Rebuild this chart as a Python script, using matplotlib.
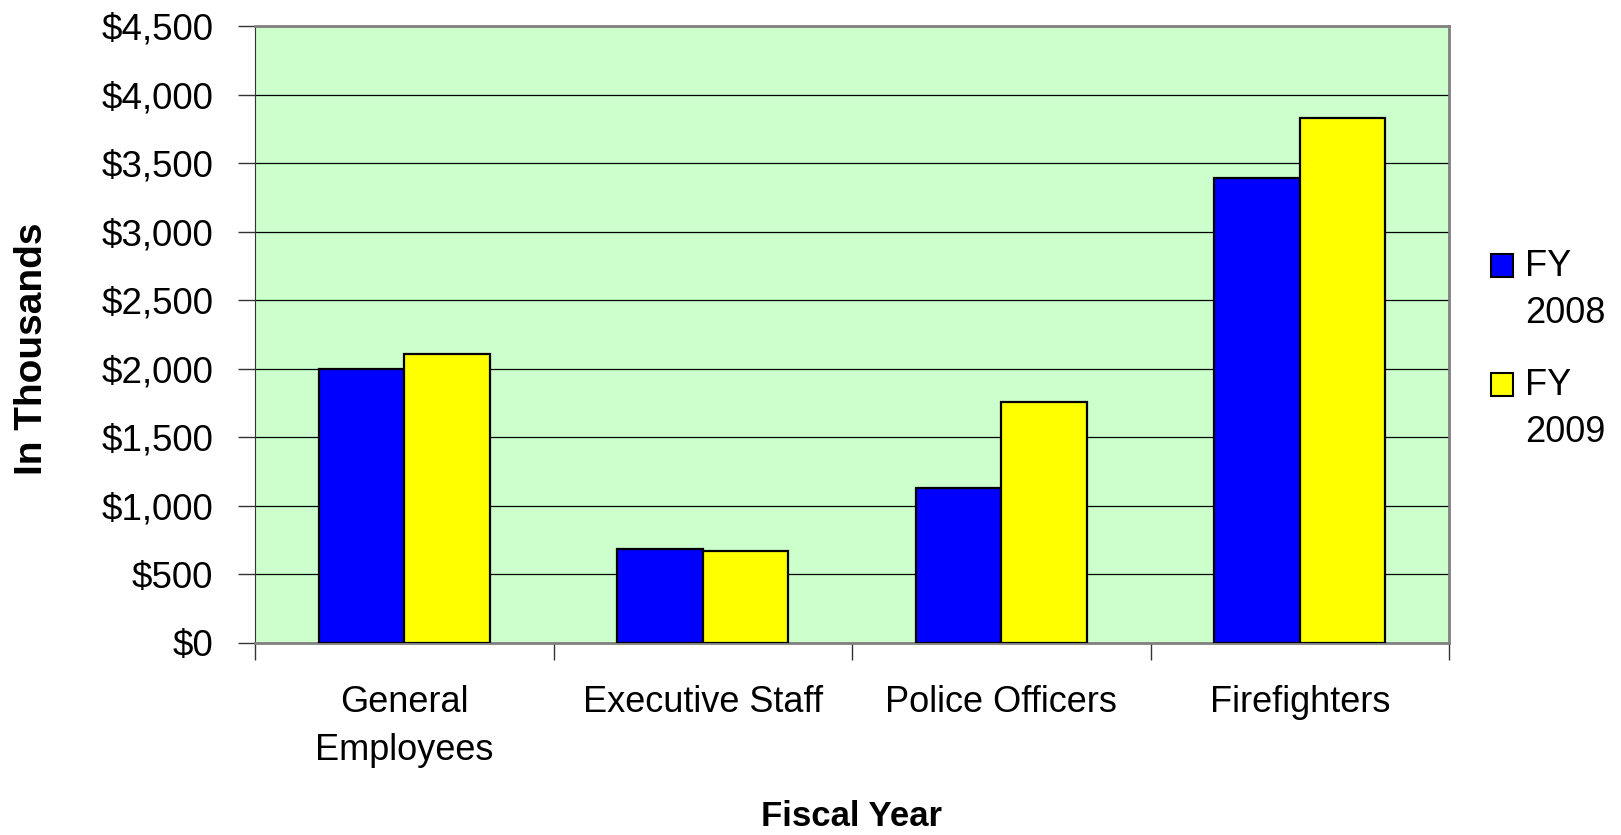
import numpy as np
import matplotlib
matplotlib.use('Agg')
import matplotlib.pyplot as plt
from matplotlib.patches import Rectangle

categories = ['General\nEmployees', 'Executive Staff', 'Police Officers', 'Firefighters']
fy2008 = [2000, 688, 1128, 3394]
fy2009 = [2105, 671, 1760, 3830]
series_names = ['FY\n2008', 'FY\n2009']
colours = ['#0000ff', '#ffff00']

plt.rcParams['font.family'] = ['Liberation Sans', 'DejaVu Sans']

fig = plt.figure(figsize=(16.21, 8.35), dpi=100)
ax = fig.add_axes([255 / 1621, 1 - 643 / 835, 1194 / 1621, 617 / 835])
ax.set_facecolor('#ccffcc')

x = np.arange(len(categories))
w = 0.287
ax.bar(x - w / 2, fy2008, w, color=colours[0], edgecolor='black', linewidth=1.6, zorder=3)
ax.bar(x + w / 2, fy2009, w, color=colours[1], edgecolor='black', linewidth=1.6, zorder=3)

ax.set_xlim(-0.5, len(categories) - 0.5)
ax.set_ylim(0, 4500)
yt = np.arange(0, 4501, 500)
ax.set_yticks(yt)
ax.set_yticklabels(['${:,.0f}'.format(v) for v in yt], fontsize=26.5)
ax.yaxis.grid(True, color='black', linewidth=0.9, zorder=1)
ax.set_axisbelow(True)

# category labels between the boundary ticks
ax.set_xticks(np.arange(-0.5, len(categories), 1.0))
ax.set_xticklabels([])
ax.set_xticks(x, minor=True)
ax.set_xticklabels(categories, minor=True, fontsize=26, linespacing=1.5)
ax.tick_params(axis='x', which='minor', length=0, pad=30)
ax.tick_params(axis='x', which='major', length=12, width=1, color='#333333', direction='out')
ax.tick_params(axis='y', length=12, width=1, color='#333333', direction='out', pad=18)

ax.spines['left'].set_color('#333333')
ax.spines['bottom'].set_color('#808080')
ax.spines['bottom'].set_linewidth(2)
ax.spines['top'].set_color('#808080')
ax.spines['top'].set_linewidth(2)
ax.spines['right'].set_color('#808080')
ax.spines['right'].set_linewidth(2)

fig.text(852 / 1621, 1 - 817 / 835, 'Fiscal Year', ha='center', va='center',
         fontsize=25, fontweight='bold')
fig.text(32 / 1621, 1 - 349 / 835, 'In Thousands', ha='center', va='center',
         rotation=90, fontsize=28, fontweight='bold')

# legend
for i, (name, col) in enumerate(zip(series_names, colours)):
    top = 254 + i * 119
    fig.patches.append(Rectangle((1491 / 1621, 1 - (top + 23) / 835), 22 / 1621, 23 / 835,
                                 transform=fig.transFigure, facecolor=col,
                                 edgecolor='black', linewidth=1.5))
    fig.text(1525 / 1621, 1 - (top - 5) / 835, name, ha='left', va='top',
             fontsize=26, linespacing=1.45)

fig.savefig('out.png', dpi=100)
